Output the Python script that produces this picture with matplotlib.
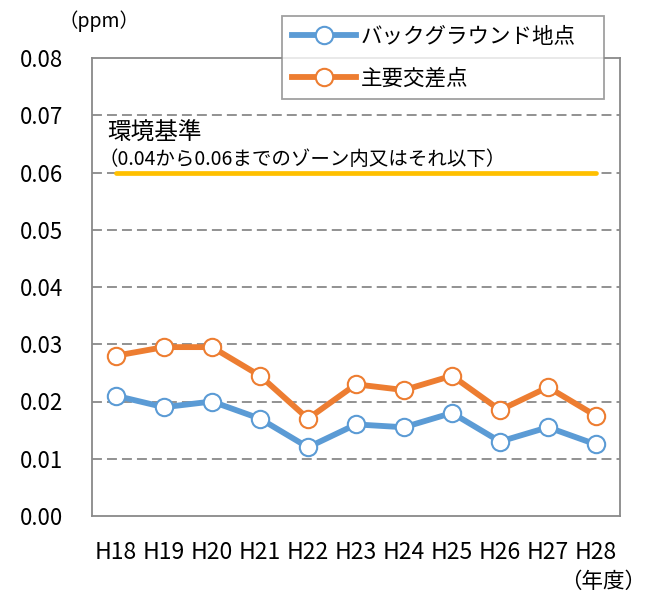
import matplotlib.pyplot as plt

plt.rcParams['font.family'] = ['Noto Sans CJK JP', 'DejaVu Sans']

# データ（ppm）
years = ['H18', 'H19', 'H20', 'H21', 'H22', 'H23', 'H24', 'H25', 'H26', 'H27', 'H28']
background = [0.021, 0.019, 0.020, 0.017, 0.012, 0.016, 0.0155, 0.018, 0.013, 0.0155, 0.0125]
crossing = [0.028, 0.0295, 0.0295, 0.0245, 0.017, 0.023, 0.022, 0.0245, 0.0185, 0.0225, 0.0175]
standard = 0.06

blue = '#5B9BD5'
orange = '#ED7D31'
yellow = '#FFC000'
gray = '#898989'

W, H = 649, 595
fig = plt.figure(figsize=(W / 100, H / 100), dpi=100)
ax = fig.add_axes([92 / W, 1 - 516 / H, 528 / W, 458 / H])

x = list(range(len(years)))

# 環境基準ライン
ax.plot([x[0], x[-1]], [standard, standard], color=yellow, lw=3.4,
        solid_capstyle='round', zorder=3)

ax.plot(x, background, color=blue, lw=4.2, marker='o', ms=12.5,
        mfc='white', mec=blue, mew=1.5, label='バックグラウンド地点', zorder=4)
ax.plot(x, crossing, color=orange, lw=4.2, marker='o', ms=12.5,
        mfc='white', mec=orange, mew=1.5, label='主要交差点', zorder=4)

ax.set_xlim(-0.5, len(years) - 0.5)
ax.set_ylim(0, 0.08)
ax.set_yticks([i * 0.01 for i in range(9)])
ax.set_yticklabels([f'{i * 0.01:.2f}' for i in range(9)], fontsize=16)
ax.set_xticks(x)
ax.set_xticklabels(years, fontsize=16.5)
ax.tick_params(axis='both', length=0)
ax.tick_params(axis='y', pad=21)
ax.tick_params(axis='x', pad=18)

for yv in [i * 0.01 for i in range(1, 8)]:
    ax.axhline(yv, color=gray, lw=1.3, ls=(0, (5.5, 2.8)), zorder=1)

for s in ax.spines.values():
    s.set_color(gray)
    s.set_linewidth(1.3)

fig.text(107 / W, 1 - 133 / H, '環境基準', fontsize=17, va='center', ha='left')
fig.text(98 / W, 1 - 160 / H, '（0.04から0.06までのゾーン内又はそれ以下）', fontsize=14,
         va='center', ha='left')

fig.text(58 / W, 1 - 21 / H, '（ppm）', fontsize=14, va='center', ha='left')
fig.text(646 / W, 1 - 582 / H, '（年度）', fontsize=15.5, va='center', ha='right')

leg = fig.legend(loc='upper left', bbox_to_anchor=(282 / W, 1 - 99 / H, 322 / W, 83 / H),
                 mode='expand', fontsize=15.5, frameon=True, fancybox=False,
                 handlelength=3.0, borderaxespad=0, borderpad=0.45, labelspacing=0.9,
                 handletextpad=0.2)
leg.get_frame().set_edgecolor(gray)
leg.get_frame().set_linewidth(1.3)

fig.savefig('out.png', dpi=100)
